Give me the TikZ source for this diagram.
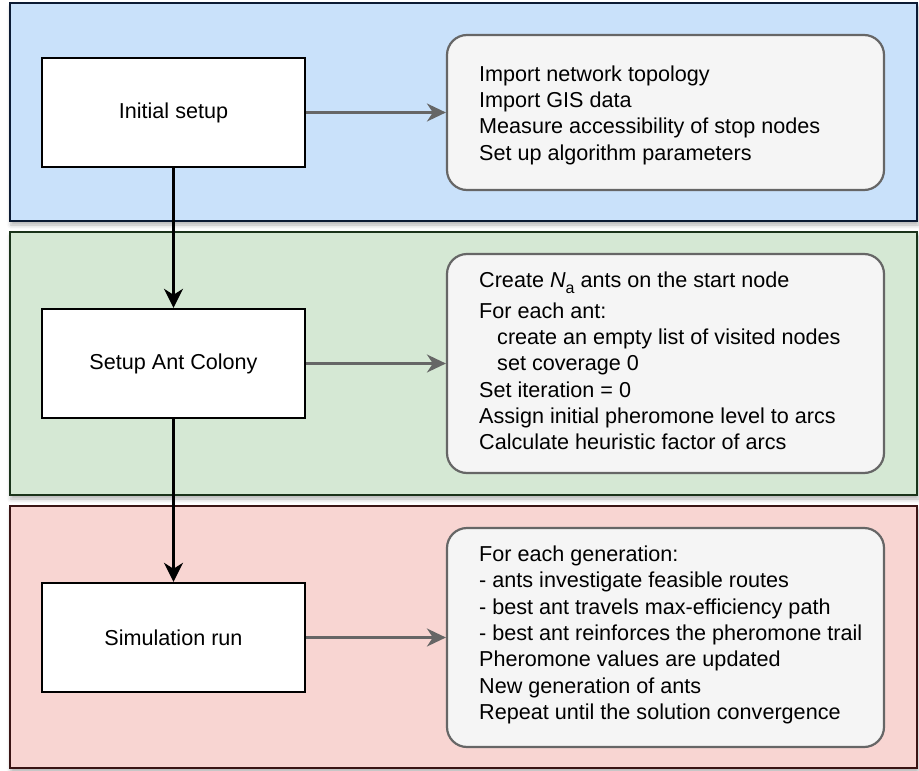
\documentclass[tikz,border=0pt]{standalone}
\usepackage{fontspec}
\setmainfont{Liberation Sans}
\usetikzlibrary{arrows.meta,shadows.blur}

\definecolor{bandblue}{HTML}{C9E1FA}
\definecolor{bandblueline}{HTML}{0B1A33}
\definecolor{bandgreen}{HTML}{D5E8D4}
\definecolor{bandgreenline}{HTML}{1A331A}
\definecolor{bandred}{HTML}{F8D5D2}
\definecolor{bandredline}{HTML}{3A1414}
\definecolor{notefill}{HTML}{F5F5F5}
\definecolor{noteline}{HTML}{666666}

\tikzset{
  band/.style={line width=2.6pt, blur shadow={shadow xshift=1pt, shadow yshift=-4pt,
      shadow blur radius=4pt, shadow opacity=30}},
  stagebox/.style={draw=black, fill=white, line width=2.4pt, minimum width=263pt,
      minimum height=109pt, inner sep=0pt},
  notebox/.style={draw=noteline, fill=notefill, line width=2.2pt, rounded corners=20pt,
      minimum width=437pt, inner sep=0pt},
  notetext/.style={anchor=west, align=left, inner sep=0pt},
  flow/.style={line width=2.2pt, draw=black, -{Stealth[length=19pt, width=19pt, inset=6pt]}},
  detail/.style={line width=2.2pt, draw=noteline, -{Stealth[length=19pt, width=18pt, inset=6pt]}},
  txt/.style={font=\fontsize{21.6pt}{26.3pt}\selectfont}
}

\begin{document}
\begin{tikzpicture}[x=1pt, y=-1pt, txt]
  \useasboundingbox (0,0) rectangle (919,771);

  % background bands
  \draw[band, draw=bandblueline, fill=bandblue] (10,3) rectangle (917,221);
  \draw[band, draw=bandgreenline, fill=bandgreen] (10,232) rectangle (917,495);
  \draw[band, draw=bandredline, fill=bandred] (10,506) rectangle (917,768);

  % process stages
  \node[stagebox] (s1) at (173.5,112.5) {Initial setup};
  \node[stagebox] (s2) at (173.5,363.5) {Setup Ant Colony};
  \node[stagebox] (s3) at (173.5,637.5) {Simulation run};

  % detail boxes
  \node[notebox, minimum height=155pt] (r1) at (665.5,112.5) {};
  \node[notebox, minimum height=219pt] (r2) at (665.5,363.5) {};
  \node[notebox, minimum height=219pt] (r3) at (665.5,637.5) {};

  \node[notetext] (t1) at (479,115) {Import network topology\\
    Import GIS data\\
    Measure accessibility of stop nodes\\
    Set up algorithm parameters};

  \node[notetext] (t2) at (479,361) {Create {\itshape N}\raisebox{-6pt}{\fontsize{16pt}{16pt}\selectfont a} ants on the start node\\[4pt]
    For each ant:\\
    \hspace*{18pt}create an empty list of visited nodes\\
    \hspace*{18pt}set coverage 0\\
    Set iteration = 0\\
    Assign initial pheromone level to arcs\\
    Calculate heuristic factor of arcs};

  \node[notetext] (t3) at (479,635) {For each generation:\\
    - ants investigate feasible routes\\
    - best ant travels max-efficiency path\\
    - best ant reinforces the pheromone trail\\
    Pheromone values are updated\\
    New generation of ants\\
    Repeat until the solution convergence};

  % connectors
  \draw[flow] (s1.south) -- (s2.north);
  \draw[flow] (s2.south) -- (s3.north);
  \draw[detail] (s1.east) -- (r1.west);
  \draw[detail] (s2.east) -- (r2.west);
  \draw[detail] (s3.east) -- (r3.west);
\end{tikzpicture}
\end{document}
